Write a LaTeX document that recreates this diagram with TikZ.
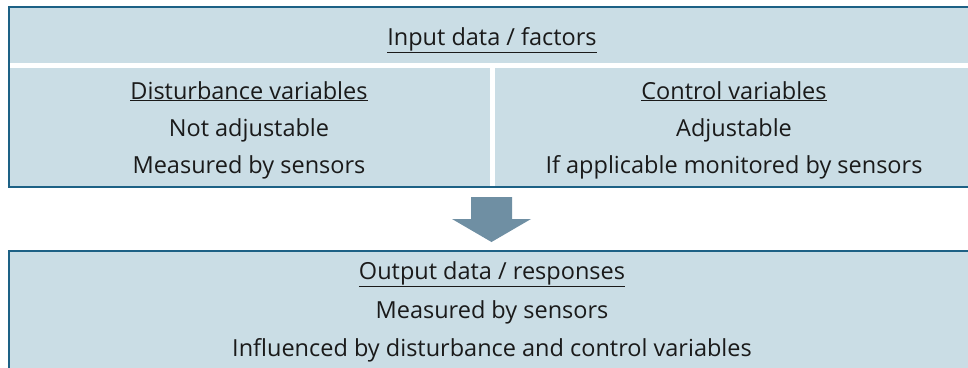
\documentclass[tikz,border=0pt]{standalone}
\usepackage{fontspec}
\setmainfont{Open Sans}
\definecolor{boxfill}{HTML}{CADDE5}
\definecolor{boxline}{HTML}{1D6185}
\definecolor{arrowfill}{HTML}{6F8FA3}
\definecolor{txt}{HTML}{1A1A1A}
\begin{document}
\begin{tikzpicture}[x=1pt,y=-1pt,
  panel/.style={fill=boxfill,draw=boxline,line width=2.2pt},
  lbl/.style={font=\fontsize{23.5}{28}\selectfont,text=txt,inner sep=0pt,anchor=base}]
\useasboundingbox (0,0) rectangle (968,367);
% input block with white separators
\draw[panel] (9,7) rectangle (990,187);
\fill[white] (10.2,63) rectangle (990,68);
\fill[white] (490,68) rectangle (495,185.8);
% output block
\draw[panel] (9,251) rectangle (990,390);
% block arrow
\fill[arrowfill] (471,197) -- (512,197) -- (512,219) -- (531,219) -- (491.5,242)
  -- (452,219) -- (471,219) -- cycle;
% texts
\node[lbl] (inp) at (492,45) {\underline{Input data / factors}};
\node[lbl] (dist) at (249,99) {\underline{Disturbance variables}};
\node[lbl] (na) at (249,136) {Not adjustable};
\node[lbl] (ms1) at (249,173) {Measured by sensors};
\node[lbl] (ctrl) at (734,99) {\underline{Control variables}};
\node[lbl] (adj) at (734,136) {Adjustable};
\node[lbl] (mon) at (734,173) {If applicable monitored by sensors};
\node[lbl] (out) at (492,279) {\underline{Output data / responses}};
\node[lbl] (ms2) at (492,318) {Measured by sensors};
\node[lbl] (infl) at (492,356) {Influenced by disturbance and control variables};
\end{tikzpicture}
\end{document}
